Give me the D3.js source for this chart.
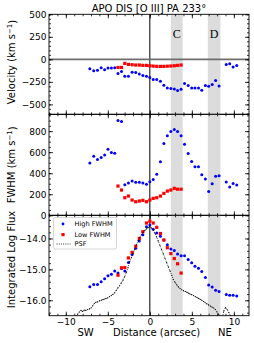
<!DOCTYPE html>
<html lang="en">
<head>
<meta charset="UTF-8">
<title>APO DIS [O III] PA 233</title>
<script src="https://d3js.org/d3.v7.min.js"></script>
<style>
  body { margin: 0; background: #fff; }
  svg text { font-family: "DejaVu Sans", sans-serif; fill: #000; }
</style>
</head>
<body>
<div id="chart"></div>
<script>
// ---- data ----
var xHigh = [-7.14,-6.68,-6.23,-5.79,-5.38,-4.98,-4.58,-4.18,-3.79,-3.37,-2.98,-2.55,-2.11,-1.68,-1.25,-0.83,-0.40,0.00,0.40,0.82,1.26,1.67,2.08,2.50,2.91,3.30,3.72,4.13,4.56,4.98,5.37,5.79,6.18,6.61,7.00,7.42,7.83,8.24,9.09,9.50,9.91,10.34];
var velHigh = [-104,-127,-120,-93,-116,-97,-97,-93,-157,-135,-187,-187,-142,-145,-164,-179,-187,-202,-224,-224,-243,-288,-317,-325,-329,-347,-333,-269,-291,-317,-317,-317,-344,-291,-299,-280,-235,-295,-56,-49,-86,-67];
var fwhmHigh = [496,562,531,550,574,628,597,590,900,891,290,306,325,313,313,306,294,318,341,389,508,682,755,796,815,796,755,676,588,512,461,461,385,344,227,300,372,375,316,268,303,287];
var fluxHigh = [-15.56,-15.49,-15.49,-15.40,-15.30,-15.21,-15.16,-15.05,-15.12,-14.97,-15.05,-14.78,-14.52,-14.32,-14.08,-13.88,-13.62,-13.56,-13.70,-13.82,-13.93,-14.05,-14.20,-14.34,-14.39,-14.50,-14.56,-14.56,-14.68,-14.79,-14.90,-14.96,-15.07,-15.26,-15.51,-15.57,-15.68,-15.72,-15.81,-15.84,-15.84,-15.86];

var xLow = [-3.79,-3.37,-2.98,-2.55,-2.11,-1.68,-1.25,-0.83,-0.40,0.00,0.40,0.82,1.26,1.67,2.08,2.50,2.91,3.30,3.72];
var velLow = [-90,-90,-45,-56,-60,-63,-63,-67,-67,-71,-75,-78,-78,-78,-76,-74,-71,-67,-63];
var fwhmLow = [278,240,167,183,145,129,136,142,129,145,161,167,183,208,230,240,256,248,248];
var fluxLow = [-15.19,-14.95,-14.94,-14.63,-14.45,-14.25,-14.00,-13.78,-13.50,-13.44,-13.50,-13.64,-13.84,-14.05,-14.30,-14.49,-14.65,-14.82,-15.12];

var psfX = [-8.8,-8.6,-8.4,-8.2,-8.0,-7.8,-7.6,-7.4,-7.2,-7.0,-6.8,-6.6,-6.4,-6.2,-6.0,-5.8,-5.6,-5.4,-5.2,-5.0,-4.8,-4.6,-4.4,-4.2,-4.0,-3.8,-3.6,-3.4,-3.2,-3.0,-2.8,-2.6,-2.4,-2.2,-2.0,-1.8,-1.6,-1.4,-1.2,-1.0,-0.8,-0.6,-0.4,-0.2,0.0,0.2,0.4,0.6,0.8,1.0,1.2,1.4,1.6,1.8,2.0,2.2,2.4,2.6,2.8,3.0,3.2,3.4,3.6,3.8,4.0,4.2,4.4,4.6,4.8,5.0,5.2,5.4,5.6,5.8,6.0,6.2,6.4,6.6,6.8,7.0,7.2,7.4,7.6,7.8,8.0,8.2,8.4,8.6,8.8,9.0,9.2,9.4,9.6,9.8];
var psfF = [-16.55,-16.45,-16.38,-16.33,-16.36,-16.32,-16.33,-16.30,-16.28,-16.25,-16.18,-16.10,-16.06,-16.05,-16.02,-16.00,-15.98,-15.96,-15.94,-15.92,-15.88,-15.85,-15.81,-15.76,-15.68,-15.60,-15.53,-15.44,-15.35,-15.24,-15.10,-14.95,-14.75,-14.62,-14.48,-14.35,-14.21,-14.07,-13.96,-13.88,-13.80,-13.74,-13.69,-13.65,-13.62,-13.66,-13.72,-13.83,-13.95,-14.08,-14.22,-14.36,-14.50,-14.64,-14.78,-14.92,-15.05,-15.19,-15.33,-15.42,-15.50,-15.57,-15.62,-15.66,-15.69,-15.71,-15.74,-15.77,-15.80,-15.82,-15.85,-15.88,-15.91,-15.94,-15.97,-16.00,-16.04,-16.08,-16.12,-16.15,-16.19,-16.22,-16.25,-16.30,-16.38,-16.46,-16.55,-16.60,-16.35,-16.24,-16.30,-16.40,-16.50,-16.60];

var bands = [[2.5, 3.9], [6.9, 8.4]];
var bandLabels = ["C", "D"];

var velTicks = [-500, -250, 0, 250, 500];
var fwhmTicks = [0, 200, 400, 600, 800];
var fluxTicks = [-16, -15, -14];
var xTicks = [-10, -5, 0, 5, 10];

// ---- layout ----
var W = 254, H = 343;
var left = 49, right = 249;
var svg = d3.select("#chart").append("svg")
  .attr("width", W).attr("height", H);

var x = d3.scaleLinear().domain([-12, 11.8]).range([left, right]);

var panels = [
  { y0: 14.3, y1: 114.3, dom: [-610, 500], ticks: velTicks, minor: 50 },
  { y0: 114.3, y1: 215.3, dom: [0, 960], ticks: fwhmTicks, minor: 50 },
  { y0: 215.3, y1: 315.7, dom: [-16.5, -13.25], ticks: fluxTicks, minor: 0.2 }
];

panels.forEach(function(p, i) {
  p.y = d3.scaleLinear().domain(p.dom).range([p.y1, p.y0]);
  p.g = svg.append("g");
  svg.append("clipPath").attr("id", "clip" + i)
    .append("rect").attr("x", left).attr("y", p.y0)
    .attr("width", right - left).attr("height", p.y1 - p.y0);
  p.plot = p.g.append("g").attr("clip-path", "url(#clip" + i + ")");

  // shaded regions
  p.plot.selectAll("rect.band").data(bands).enter().append("rect")
    .attr("x", function(d) { return x(d[0]); })
    .attr("width", function(d) { return x(d[1]) - x(d[0]); })
    .attr("y", p.y0).attr("height", p.y1 - p.y0)
    .attr("fill", "#dcdcdc");

  // vertical line at 0
  p.plot.append("line")
    .attr("x1", x(0)).attr("x2", x(0)).attr("y1", p.y0).attr("y2", p.y1)
    .attr("stroke", "#000").attr("stroke-width", 1);
});

// horizontal zero line in velocity panel
panels[0].plot.append("line")
  .attr("x1", left).attr("x2", right)
  .attr("y1", panels[0].y(0)).attr("y2", panels[0].y(0))
  .attr("stroke", "#6e6e6e").attr("stroke-width", 1.6);

// band letters
panels[0].g.selectAll("text.band").data(bands).enter().append("text")
  .attr("x", function(d) { return (x(d[0]) + x(d[1])) / 2; })
  .attr("y", 38)
  .attr("text-anchor", "middle")
  .style("font-family", "'Liberation Serif', serif")
  .style("font-size", "12px")
  .text(function(d, i) { return bandLabels[i]; });

function blueDots(p, xs, ys) {
  p.plot.selectAll(null).data(xs).enter().append("circle")
    .attr("cx", function(d) { return x(d); })
    .attr("cy", function(d, i) { return p.y(ys[i]); })
    .attr("r", 1.5).attr("fill", "#0000ff");
}
function redSquares(p, xs, ys) {
  var s = 3.2;
  p.plot.selectAll(null).data(xs).enter().append("rect")
    .attr("x", function(d) { return x(d) - s / 2; })
    .attr("y", function(d, i) { return p.y(ys[i]) - s / 2; })
    .attr("width", s).attr("height", s).attr("fill", "#ff0000");
}

blueDots(panels[0], xHigh, velHigh);
redSquares(panels[0], xLow, velLow);
blueDots(panels[1], xHigh, fwhmHigh);
redSquares(panels[1], xLow, fwhmLow);
blueDots(panels[2], xHigh, fluxHigh);
redSquares(panels[2], xLow, fluxLow);

// PSF dotted line with small points
var psfLine = d3.line()
  .x(function(d) { return x(d); })
  .y(function(d, i) { return panels[2].y(psfF[i]); });
panels[2].plot.append("path").datum(psfX)
  .attr("d", psfLine).attr("fill", "none")
  .attr("stroke", "#000").attr("stroke-width", 0.8)
  .attr("stroke-dasharray", "1,1.2");
panels[2].plot.selectAll(null).data(psfX).enter().append("circle")
  .attr("cx", function(d) { return x(d); })
  .attr("cy", function(d, i) { return panels[2].y(psfF[i]); })
  .attr("r", 0.6).attr("fill", "#000");

// ---- axes ----
function minorVals(dom, step) {
  var out = [];
  var lo = Math.ceil(dom[0] / step - 1e-9), hi = Math.floor(dom[1] / step + 1e-9);
  for (var k = lo; k <= hi; k++) out.push(+(k * step).toFixed(4));
  return out;
}
var xMinor = minorVals([-12, 11.8], 1);

panels.forEach(function(p, i) {
  var last = i === panels.length - 1;
  var yMinor = minorVals(p.dom, p.minor);

  var axL = p.g.append("g").attr("transform", "translate(" + left + ",0)")
    .call(d3.axisLeft(p.y).tickValues(p.ticks).tickSize(-4).tickPadding(2.5));
  p.g.append("g").attr("transform", "translate(" + left + ",0)")
    .call(d3.axisLeft(p.y).tickValues(yMinor).tickSize(-2).tickFormat(""));
  p.g.append("g").attr("transform", "translate(" + right + ",0)")
    .call(d3.axisRight(p.y).tickValues(p.ticks).tickSize(-4).tickFormat(""));
  p.g.append("g").attr("transform", "translate(" + right + ",0)")
    .call(d3.axisRight(p.y).tickValues(yMinor).tickSize(-2).tickFormat(""));

  p.g.append("g").attr("transform", "translate(0," + p.y0 + ")")
    .call(d3.axisTop(x).tickValues(xTicks).tickSize(-4).tickFormat(""));
  p.g.append("g").attr("transform", "translate(0," + p.y0 + ")")
    .call(d3.axisTop(x).tickValues(xMinor).tickSize(-2).tickFormat(""));
  var axB = p.g.append("g").attr("transform", "translate(0," + p.y1 + ")")
    .call(d3.axisBottom(x).tickValues(xTicks).tickSize(-4).tickPadding(3)
      .tickFormat(last ? d3.format("d") : ""));
  p.g.append("g").attr("transform", "translate(0," + p.y1 + ")")
    .call(d3.axisBottom(x).tickValues(xMinor).tickSize(-2).tickFormat(""));

  p.g.selectAll(".domain").remove();
  p.g.selectAll(".tick line").attr("stroke", "#000").attr("stroke-width", 0.8);
  p.g.selectAll(".tick text").style("font-family", "'DejaVu Sans', sans-serif")
    .style("font-size", "9px");

  // frame
  p.g.append("rect").attr("x", left).attr("y", p.y0)
    .attr("width", right - left).attr("height", p.y1 - p.y0)
    .attr("fill", "none").attr("stroke", "#000").attr("stroke-width", 0.9);
});

// ---- legend ----
var lg = panels[2].g.append("g");
lg.append("rect").attr("x", 53.5).attr("y", 217.5).attr("width", 63).attr("height", 31.5)
  .attr("rx", 1.5).attr("fill", "#fff").attr("fill-opacity", 0.85)
  .attr("stroke", "#cccccc").attr("stroke-width", 0.8);
lg.append("circle").attr("cx", 63).attr("cy", 224).attr("r", 1.4).attr("fill", "#0000ff");
lg.append("rect").attr("x", 61.4).attr("y", 233).attr("width", 3.2).attr("height", 3.2).attr("fill", "#ff0000");
lg.append("line").attr("x1", 56.5).attr("x2", 70.5).attr("y1", 244).attr("y2", 244)
  .attr("stroke", "#000").attr("stroke-width", 0.8).attr("stroke-dasharray", "1,1.2");
[["High FWHM", 224], ["Low FWHM", 234.6], ["PSF", 244]].forEach(function(e) {
  lg.append("text").attr("x", 74.5).attr("y", e[1]).attr("dy", "0.35em")
    .style("font-size", "6.6px").text(e[0]);
});

// ---- titles and labels ----
svg.append("text").attr("x", (left + right) / 2).attr("y", 11.5)
  .attr("text-anchor", "middle").style("font-size", "10px")
  .text("APO DIS [O III] PA 233\u00b0");

function yLabel(cy, main) {
  var t = svg.append("text")
    .attr("transform", "translate(15," + cy + ") rotate(-90)")
    .attr("text-anchor", "middle").style("font-size", "10px");
  t.append("tspan").text(main);
  if (main !== "Integrated Log Flux") {
    t.append("tspan").text("\u22121").attr("dy", "-0.4em").style("font-size", "7px");
    t.append("tspan").text(")").attr("dy", "0.4em");
  }
}
yLabel(62, "Velocity (km s");
yLabel(164.8, "FWHM (km s");
yLabel(259.5, "Integrated Log Flux");

svg.append("text").attr("x", 156.5).attr("y", 336).attr("text-anchor", "middle")
  .style("font-size", "10px").text("Distance (arcsec)");
svg.append("text").attr("x", 85.5).attr("y", 336).attr("text-anchor", "middle")
  .style("font-size", "10px").text("SW");
svg.append("text").attr("x", 225).attr("y", 336).attr("text-anchor", "middle")
  .style("font-size", "10px").text("NE");
</script>
</body>
</html>
